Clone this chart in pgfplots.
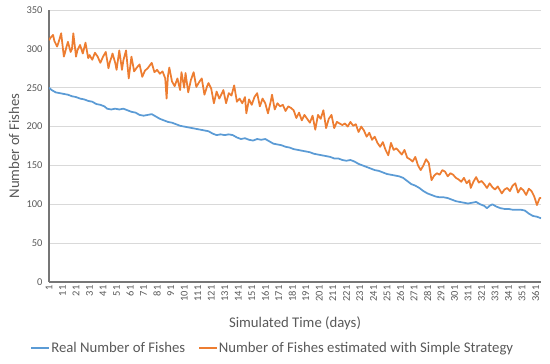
\documentclass[border=0pt]{standalone}
\usepackage{fontspec}
\setmainfont{Carlito}
\usepackage{pgfplots}
\pgfplotsset{compat=1.18}
\usepackage{pgfplotstable}
\definecolor{xlblue}{HTML}{5B9BD5}
\definecolor{xlorange}{HTML}{ED7D31}
\definecolor{xlgrid}{HTML}{D9D9D9}
\definecolor{xltext}{HTML}{595959}
\definecolor{xlaxis}{HTML}{767676}

\pgfplotstableread{
day val
1 250
3 247
6 244
9 243
12 242
15 241
18 239
21 238
24 236
27 235
30 233
33 232
36 229
39 228
42 226
44 223
47 222
50 223
53 222
56 223
59 221
62 219
65 218
68 215
71 214
74 215
77 216
80 213
83 210
86 208
89 206
92 205
95 203
98 201
101 200
104 199
107 198
110 197
113 196
116 195
119 194
122 191
125 189
128 190
131 189
134 190
137 189
140 186
143 184
146 185
149 183
152 182
155 184
158 183
161 184
164 181
167 178
170 177
173 176
176 174
179 173
182 171
185 170
188 169
191 168
194 167
197 165
200 164
203 163
206 162
209 161
212 159
215 159
218 157
221 156
224 157
227 155
230 152
233 150
236 148
239 146
242 144
245 143
248 141
251 139
254 138
257 137
260 136
263 134
266 130
269 126
272 124
275 121
278 117
281 114
284 112
287 110
290 109
293 109
296 108
299 106
302 104
305 103
308 102
311 101
314 102
317 103
320 100
323 98
325 95
327 98
329 100
332 97
335 95
338 94
341 94
344 93
347 93
350 93
353 92
356 88
359 85
362 84
365 82
}\realdata

\pgfplotstableread{
day val
1 311
2 314
4 318
5 310
7 303
8 308
10 320
12 290
13 296
14 303
15 309
17 296
18 300
19 320
21 290
22 298
24 305
26 294
28 308
30 288
31 292
33 286
35 295
37 290
39 282
41 290
43 296
45 275
46 283
47 288
48 294
50 282
51 273
53 298
55 273
56 285
58 298
60 262
62 290
64 271
66 276
68 280
70 264
72 272
74 275
77 282
79 270
81 273
83 268
85 271
87 262
88 236
89 265
90 276
92 258
94 252
96 262
98 247
99 270
101 250
102 269
104 244
106 260
108 270
110 251
112 257
114 262
116 241
118 252
119 256
121 249
123 230
125 245
127 236
129 243
130 247
132 230
134 243
136 240
138 253
140 232
142 236
144 230
146 238
147 217
149 235
151 228
153 238
155 243
157 226
159 236
161 230
163 217
165 232
166 241
168 222
170 230
172 226
174 228
176 220
178 226
180 224
182 221
184 211
186 218
188 208
190 215
192 210
194 205
196 214
198 196
200 215
202 210
204 221
206 198
208 210
210 215
212 198
214 206
216 204
218 202
220 204
222 200
224 206
226 201
228 203
230 193
232 200
234 195
236 187
238 192
240 183
242 187
244 179
246 174
248 180
250 170
252 163
254 179
256 170
258 172
260 168
262 164
264 170
266 160
268 158
270 155
272 161
274 150
276 144
278 150
280 158
282 153
284 131
286 137
288 140
290 138
292 144
294 142
296 136
298 140
300 138
302 134
304 132
306 129
308 134
310 127
312 131
313 121
315 129
317 135
319 128
321 130
323 126
325 121
327 127
329 122
331 119
333 123
335 117
336 114
338 119
340 121
342 117
344 124
346 127
348 115
350 121
352 118
354 112
356 120
358 117
360 110
362 99
364 108
365 108
}\estdata

\begin{document}
\begin{tikzpicture}
\begin{axis}[
  scale only axis,
  width=492bp, height=272bp,
  xmin=1, xmax=365, ymin=0, ymax=350,
  axis x line*=bottom, axis y line*=left,
  axis line style={draw=xlaxis, line width=1.1pt},
  xtick={1,11,...,361},
  ytick={0,50,...,350},
  major tick length=0pt,
  ymajorgrids,
  grid style={draw=xlgrid, line width=0.75pt},
  /pgf/number format/assume math mode=true,
  tick label style={font=\fontsize{10.5}{11}\selectfont, text=xltext},
  xticklabel style={rotate=90, anchor=east, xshift=0bp},
  yticklabel style={xshift=-3bp},
  label style={font=\fontsize{14.8}{17}\selectfont, text=xltext},
  xlabel={Simulated Time (days)},
  ylabel={Number of Fishes},
  xlabel style={at={(axis description cs:0.5,-0.151)}, anchor=center},
  ylabel style={at={(axis description cs:-0.071,0.5)}, anchor=center},
  legend style={at={(axis description cs:0.454,-0.243)}, anchor=center,
    draw=none, fill=none, font=\fontsize{14.8}{17}\selectfont, text=xltext,
    legend columns=2,
    /tikz/every even column/.append style={column sep=12bp},
    /tikz/every node/.append style={inner xsep=1bp}},
  legend image code/.code={\draw[#1] (0bp,0bp) -- (18bp,0bp);},
]
\addplot[xlblue, line width=1.75pt, line join=round] table[x=day,y=val] {\realdata};
\addlegendentry{Real Number of Fishes}
\addplot[xlorange, line width=1.75pt, line join=round] table[x=day,y=val] {\estdata};
\addlegendentry{Number of Fishes estimated with Simple Strategy}
\end{axis}
\pgfresetboundingbox
\path ([shift={(-49bp,-82bp)}]current axis.south west) rectangle ([shift={(9bp,10bp)}]current axis.north east);
\end{tikzpicture}
\end{document}
